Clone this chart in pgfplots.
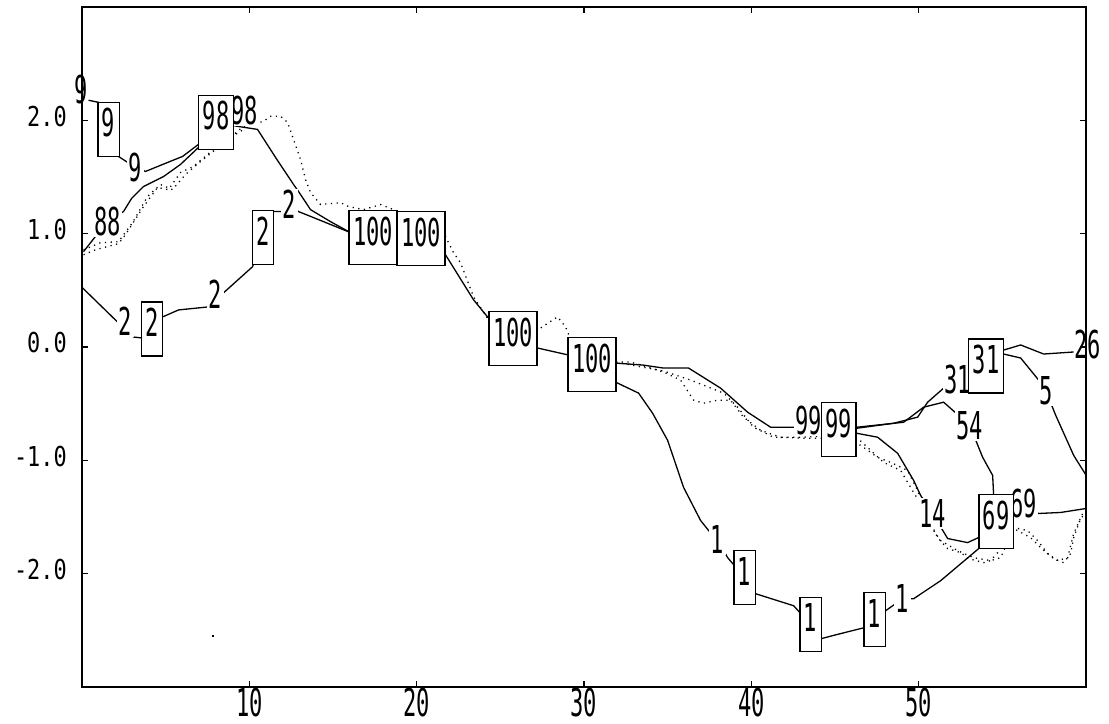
\documentclass[border=0pt]{standalone}
\usepackage{fontspec}
\usepackage{pgfplots}
\pgfplotsset{compat=1.18}
\newfontfamily\labfont[FakeStretch=0.575]{DejaVu Sans Mono}
\newfontfamily\ytfont[FakeStretch=0.8]{DejaVu Sans Mono}
\newcommand\lab{\labfont\fontsize{38.4bp}{40bp}\selectfont}
\newcommand\ytl{\ytfont\fontsize{27.4bp}{29bp}\selectfont}
\begin{document}
\begin{tikzpicture}
\path[use as bounding box] (-82bp,-37bp) rectangle (1027bp,687bp);
\begin{axis}[
  at={(0,0)}, anchor=south west,
  scale only axis, width=1004bp, height=680bp,
  xmin=0, xmax=60, ymin=-3, ymax=3,
  clip=false,
  axis line style={line width=1.4bp},
  tick align=inside, major tick length=6bp,
  every tick/.style={black, line width=1.2bp},
  xtick={10,20,30,40,50}, xticklabels={10,20,30,40,50},
  ytick={-2,-1,0,1,2}, yticklabels={-2.0,-1.0,0.0,1.0,2.0},
  xticklabel style={font=\lab, inner sep=0pt, text height=28bp, text depth=0pt, anchor=north, yshift=-1bp},
  yticklabel style={font=\ytl, inner sep=0pt, xshift=-15bp, yshift=4bp},
  solid/.style={black, line width=1.3bp, mark=none},
  dots/.style={black, line width=1.3bp, mark=none, dash pattern=on 1.2bp off 4.5bp},
]
% ---- solid trajectories ----
\addplot[solid] coordinates {(0.389,2.177) (0.986,2.159) (1.584,1.920) (2.182,1.681) (3.198,1.584) (3.796,1.549) (5.111,1.628) (6.007,1.681) (6.964,1.788) (8.010,1.982)};
\addplot[solid] coordinates {(0.090,0.841) (1.524,1.111) (2.481,1.195) (2.959,1.310) (3.676,1.416) (4.871,1.504) (5.888,1.611) (6.964,1.761) (8.010,1.982)};
\addplot[solid] coordinates {(8.010,1.982) (9.295,1.947) (10.490,1.920) (11.566,1.673) (12.642,1.434) (12.941,1.372) (13.658,1.212) (14.853,1.106) (16.049,1.009) (17.394,0.965)};
\addplot[solid] coordinates {(0.030,0.522) (2.182,0.212) (3.078,0.088) (3.556,0.080) (4.184,0.159) (4.812,0.265) (5.768,0.327) (7.561,0.354) (7.980,0.460) (8.458,0.478) (10.191,0.708) (10.819,0.965) (11.447,1.195) (12.044,1.195) (12.403,1.257) (12.941,1.195) (14.435,1.106) (16.049,1.009) (17.394,0.965)};
\addplot[solid] coordinates {(17.394,0.965) (20.263,0.956) (21.608,0.841) (23.401,0.416) (24.238,0.265) (25.762,0.075) (27.227,-0.009) (29.080,-0.071) (30.484,-0.155) (31.889,-0.142) (33.503,-0.159) (34.758,-0.186) (36.252,-0.186) (38.165,-0.363) (39.779,-0.575) (41.154,-0.708) (42.648,-0.708) (43.425,-0.646) (45.218,-0.730)};
\addplot[solid] coordinates {(30.484,-0.155) (31.889,-0.310) (33.264,-0.407) (34.100,-0.584) (34.997,-0.823) (35.953,-1.239) (36.969,-1.531) (37.448,-1.619) (37.986,-1.699) (38.583,-1.858) (39.600,-2.035) (40.257,-2.177) (42.529,-2.283) (43.544,-2.447) (44.142,-2.575) (45.039,-2.540) (46.713,-2.478) (47.370,-2.407) (48.027,-2.327) (49.043,-2.221) (49.701,-2.221) (51.315,-2.062) (53.587,-1.779) (54.633,-1.540) (56.276,-1.381) (57.173,-1.469) (58.488,-1.460) (60.000,-1.425)};
\addplot[solid] coordinates {(45.218,-0.730) (46.294,-0.717) (48.505,-0.673) (49.940,-0.619) (50.538,-0.487) (51.494,-0.363) (52.331,-0.283) (54.034,-0.168) (55.080,-0.027) (56.097,0.018) (57.471,-0.062) (59.265,-0.044)};
\addplot[solid] coordinates {(54.034,-0.168) (55.080,-0.062) (56.097,-0.097) (57.173,-0.292) (57.591,-0.381) (58.189,-0.602) (59.265,-0.956) (60.000,-1.130)};
\addplot[solid] coordinates {(45.218,-0.730) (46.294,-0.708) (49.103,-0.664) (50.299,-0.531) (51.494,-0.487) (53.048,-0.690) (53.825,-0.973) (54.423,-1.133) (54.483,-1.310) (54.633,-1.540)};
\addplot[solid] coordinates {(45.218,-0.730) (46.294,-0.761) (47.549,-0.796) (48.745,-0.938) (49.701,-1.177) (50.120,-1.310) (50.837,-1.469) (51.734,-1.690) (52.929,-1.726) (53.587,-1.681) (54.633,-1.540)};
% ---- plain labels ----
\addplot[draw=none, mark=none, point meta=explicit symbolic,
  nodes near coords={\pgfplotspointmeta}, nodes near coords align={center},
  nodes near coords style={font=\lab, fill=white, anchor=center, inner sep=1.5bp, text height=28bp, text depth=0pt}]
  table[meta=lab] {
x y lab
3.198 1.584 9
9.713 2.089 98
1.524 1.111 88
2.600 0.221 2
7.980 0.460 2
12.403 1.257 2
43.425 -0.646 99
52.331 -0.283 31
57.591 -0.381 5
53.048 -0.690 54
50.837 -1.469 14
56.276 -1.381 69
37.986 -1.699 1
49.043 -2.221 1
};
\addplot[draw=none, mark=none, point meta=explicit symbolic,
  nodes near coords={\pgfplotspointmeta}, nodes near coords align={center},
  nodes near coords style={font=\lab, anchor=center, inner sep=0pt, text height=28bp, text depth=0pt}]
  table[meta=lab] {
x y lab
-0.030 2.274 9
60.090 0.018 26
};
% ---- boxed labels ----
\addplot[draw=none, mark=none, point meta=explicit symbolic,
  nodes near coords={\pgfplotspointmeta}, nodes near coords align={center},
  nodes near coords style={font=\lab, draw=black, line width=1.3bp, fill=white, anchor=center, inner xsep=4bp, inner ysep=0pt, text height=34.5bp, text depth=19.5bp}]
  table[meta=lab] {
x y lab
1.584 1.920 9
8.010 1.982 98
4.184 0.159 2
10.819 0.965 2
17.394 0.965 100
20.263 0.956 100
25.762 0.075 100
30.484 -0.155 100
45.218 -0.730 99
54.034 -0.168 31
54.633 -1.540 69
39.600 -2.035 1
43.544 -2.447 1
47.370 -2.407 1
};
% ---- dotted trajectories ----
\addplot[dots] coordinates {(0.090,0.858) (1.106,0.920) (2.182,0.929) (3.018,1.097) (3.915,1.328) (4.692,1.434) (5.409,1.389) (6.187,1.522) (7.083,1.637) (7.980,1.743) (8.876,1.850) (9.653,1.947) (10.848,1.991) (11.267,2.036) (11.864,2.036) (12.283,1.982) (12.641,1.832) (13.060,1.655) (13.359,1.478) (13.658,1.363) (14.256,1.257) (15.451,1.274) (15.930,1.239) (16.826,1.212) (17.842,1.257) (18.619,1.212) (19.456,1.142) (20.831,1.097) (21.608,1.009) (22.205,0.832) (22.624,0.743) (23.401,0.443) (24.417,0.212) (26.210,0.089) (27.227,0.150) (28.422,0.266) (28.900,0.177) (29.378,0.000) (30.574,-0.142) (31.889,-0.133) (32.785,-0.133) (33.801,-0.177) (34.758,-0.221) (35.774,-0.292) (36.551,-0.469) (37.148,-0.496) (37.985,-0.469) (38.762,-0.469) (39.539,-0.620) (40.555,-0.735) (41.751,-0.797) (43.245,-0.805) (45.217,-0.805) (46.532,-0.867) (47.548,-0.974) (48.325,-1.018) (49.342,-1.089) (49.940,-1.266) (50.298,-1.416) (51.135,-1.682) (51.733,-1.779) (52.510,-1.814) (52.988,-1.867) (53.885,-1.903) (54.303,-1.885) (54.722,-1.814) (55.080,-1.664) (55.678,-1.602) (56.694,-1.682) (57.292,-1.770) (58.069,-1.867) (58.667,-1.903) (59.085,-1.823) (59.265,-1.682) (59.683,-1.513) (60.000,-1.460)};
\addplot[dots] coordinates {(0.090,0.814) (0.807,0.858) (2.182,0.912) (2.600,0.991) (3.676,1.239) (4.513,1.407) (5.170,1.389) (5.888,1.540) (6.665,1.593) (7.860,1.743) (8.697,1.832) (9.653,1.920)};
\addplot[dots] coordinates {(30.574,-0.142) (31.889,-0.133) (33.801,-0.186) (34.758,-0.212) (36.371,-0.292) (38.344,-0.407) (39.180,-0.531) (40.137,-0.708) (41.332,-0.797) (42.947,-0.797) (45.217,-0.779) (46.353,-0.805) (47.907,-1.018) (48.923,-1.089) (49.700,-1.283) (50.119,-1.381) (50.896,-1.620) (51.315,-1.708) (52.331,-1.797) (53.287,-1.859) (54.303,-1.885) (54.901,-1.859) (55.678,-1.593) (56.515,-1.620) (57.112,-1.708) (57.710,-1.823) (58.308,-1.885) (58.906,-1.859) (59.265,-1.646) (59.803,-1.469)};
\addplot[only marks, mark=square*, mark size=0.8bp, black] coordinates {(7.80,-2.549)};
\end{axis}
\end{tikzpicture}
\end{document}
